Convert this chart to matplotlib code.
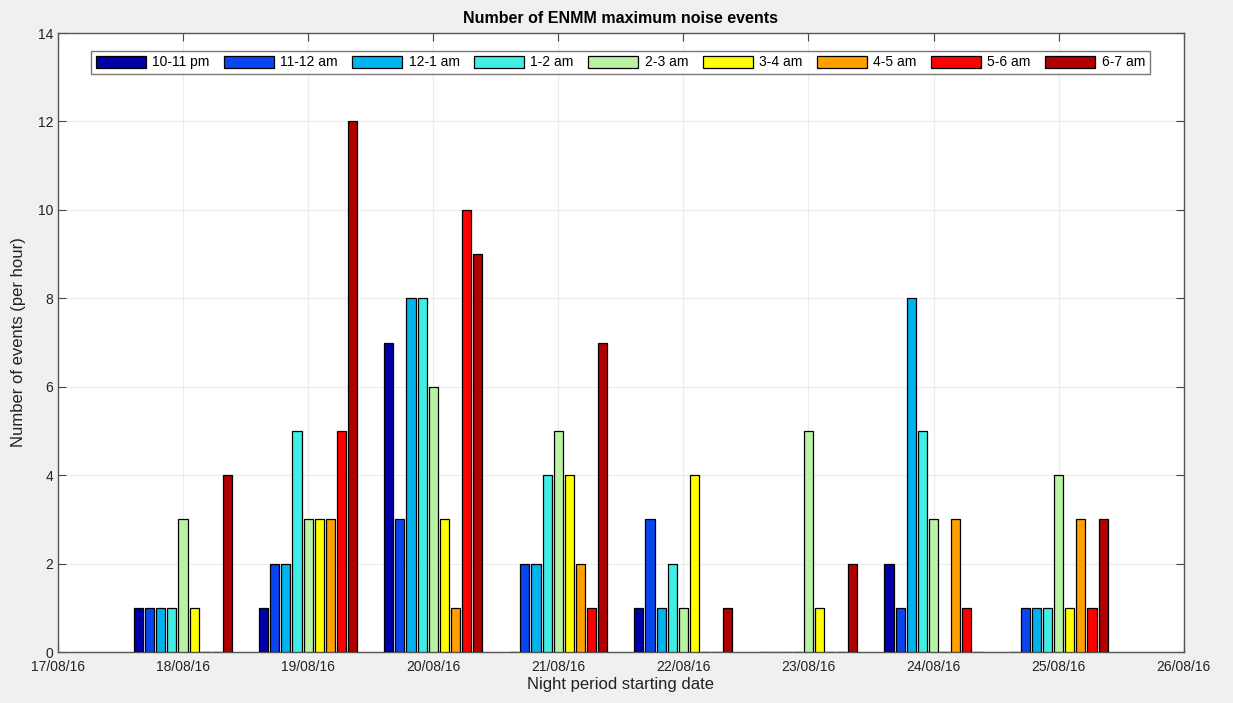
import numpy as np
import matplotlib
matplotlib.use("Agg")
import matplotlib.pyplot as plt

plt.rcParams['font.family'] = ['Liberation Sans', 'DejaVu Sans']

# night period start dates (one group of bars per night)
nights = ['18/08/16', '19/08/16', '20/08/16', '21/08/16',
          '22/08/16', '23/08/16', '24/08/16', '25/08/16']
tick_labels = ['17/08/16'] + nights + ['26/08/16']

hours = ['10-11 pm', '11-12 am', '12-1 am', '1-2 am', '2-3 am',
         '3-4 am', '4-5 am', '5-6 am', '6-7 am']

# events per hour, one list per hour slot, across the nights
ev_10_11pm = [1, 1, 7, 0, 1, 0, 2, 0]
ev_11_12am = [1, 2, 3, 2, 3, 0, 1, 1]
ev_12_1am = [1, 2, 8, 2, 1, 0, 8, 1]
ev_1_2am = [1, 5, 8, 4, 2, 0, 5, 1]
ev_2_3am = [3, 3, 6, 5, 1, 5, 3, 4]
ev_3_4am = [1, 3, 3, 4, 4, 1, 0, 1]
ev_4_5am = [0, 3, 1, 2, 0, 0, 3, 3]
ev_5_6am = [0, 5, 10, 1, 0, 0, 1, 1]
ev_6_7am = [4, 12, 9, 7, 1, 2, 0, 3]

series = [ev_10_11pm, ev_11_12am, ev_12_1am, ev_1_2am, ev_2_3am,
          ev_3_4am, ev_4_5am, ev_5_6am, ev_6_7am]

colors = ['#0000AA', '#0A46F0', '#00B2EE', '#40EEE6', '#B8F2A2',
          '#FFFF00', '#FFA000', '#FF0000', '#B00000']

fig = plt.figure(figsize=(12.33, 7.03), dpi=100, facecolor='#f0f0f0')
ax = fig.add_axes([0.047, 0.0725, 0.913, 0.8805])

# grouped bars, matlab style: group width 0.8, bar width 0.8 of slot
n = len(series)
slot = 0.8 / n
x = np.arange(len(nights))
for i, (vals, lab, c) in enumerate(zip(series, hours, colors)):
    pos = x - 0.4 + slot * (i + 0.5)
    ax.bar(pos, vals, width=slot * 0.82, color=c, edgecolor='black',
           linewidth=0.9, label=lab, zorder=3)

ax.set_xlim(-1, len(nights))
ax.set_ylim(0, 14)
ax.set_xticks(np.arange(-1, len(nights) + 1))
ax.set_xticklabels(tick_labels)
ax.set_yticks(np.arange(0, 15, 2))

ax.grid(True, color='#ececec', linewidth=0.8, zorder=0)
ax.tick_params(direction='in', top=True, right=True, length=6,
               width=0.8, color='#444444', labelsize=10, labelcolor='#222222')
ax.tick_params(axis='x', pad=6)
for s in ax.spines.values():
    s.set_color('#555555')
    s.set_linewidth(1.0)

ax.set_title('Number of ENMM maximum noise events', fontsize=11.5,
             fontweight='bold', pad=7)
ax.set_xlabel('Night period starting date', fontsize=12, labelpad=2,
              color='#222222')
ax.set_ylabel('Number of events (per hour)', fontsize=12, labelpad=8,
              color='#222222')

leg = ax.legend(loc='upper center', ncol=n, fontsize=10, frameon=True,
                fancybox=False, edgecolor='#555555', handlelength=3.6,
                handleheight=0.95, handletextpad=0.45, columnspacing=1.05,
                borderpad=0.35, bbox_to_anchor=(0.4995, 0.983))
leg.get_frame().set_linewidth(1.0)

fig.savefig('out.png', dpi=100, facecolor=fig.get_facecolor())
